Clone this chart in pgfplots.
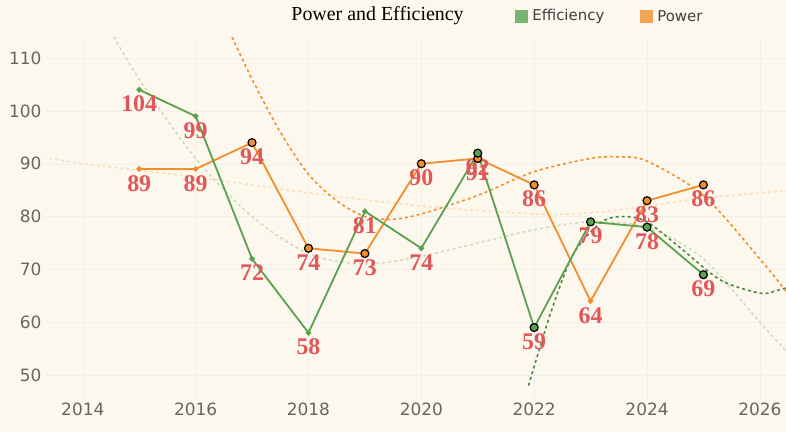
\documentclass[border=0pt]{standalone}
\usepackage{pgfplots}
\pgfplotsset{compat=1.18}
\usepackage{fontspec}
\setmainfont{Liberation Serif}
\setsansfont{DejaVu Sans}
\definecolor{bg}{HTML}{FDF8EE}
\definecolor{eff}{HTML}{59A14F}
\definecolor{pow}{HTML}{F28E2B}
\definecolor{lab}{HTML}{E15759}
\begin{document}
\begin{tikzpicture}
\fill[bg] (0,0) rectangle (786bp,432bp);
\begin{axis}[at={(45bp,32bp)},anchor=south west,
 width=741bp,height=362bp,scale only axis,
 xmin=2013.33,xmax=2026.46,ymin=45.3,ymax=113.8,
 xtick={2014,2016,...,2026},ytick={50,60,...,110},
 xticklabel style={/pgf/number format/1000 sep={}},
 /pgf/number format/assume math mode=true,
 ticklabel style={font=\sffamily\fontsize{17}{17}\selectfont,text=gray!80!black},
 axis line style={draw=none},tick style={draw=none},
 grid=major,grid style={black!6},
 clip=true,
 nodes near coords,point meta=explicit symbolic,
 every node near coord/.style={font=\bfseries\fontsize{24}{24}\selectfont,text=lab,anchor=north,yshift=-2pt},
]
\addplot[no marks,dashed,line width=1.6pt,eff!30!bg,smooth,nodes near coords={}] coordinates {(2014.5,115)(2015,106)(2016,91)(2017,80)(2018,73)(2019,71)(2020,72.5)(2021,75)(2022,77.5)(2023,79)(2024,78)(2025,72)(2026,60)(2026.6,53)};
\addplot[no marks,dashed,line width=1.6pt,pow!25!bg,smooth,nodes near coords={}] coordinates {(2013.2,91.5)(2014,90)(2016,87.5)(2018,84.5)(2020,82)(2022,80.5)(2023,80.7)(2024,82)(2025,83.5)(2026.6,85)};
\addplot[no marks,dashed,line width=1.6pt,pow,smooth,nodes near coords={}] coordinates {(2016.6,115)(2017,106)(2017.5,96)(2018,88)(2018.5,83)(2019,80)(2019.5,79.5)(2020,80.5)(2021,84)(2022,88.5)(2023,91)(2023.5,91.3)(2024,90.5)(2025,84)(2026,72)(2026.6,64)};
\addplot[no marks,dashed,line width=1.6pt,eff!85!black,smooth,nodes near coords={}] coordinates {(2021.9,48)(2022.3,62)(2022.7,73)(2023.2,79)(2023.6,80)(2024,79)(2024.6,74)(2025.3,68)(2026,65.5)(2026.3,66)(2026.6,67)};
\addplot[line width=1.8pt,pow,mark=*,mark size=1.8pt] coordinates {(2015,89)[89](2016,89)[89](2017,94)[94](2018,74)[74](2019,73)[73](2020,90)[90](2021,91)[91](2022,86)[86](2023,64)[64](2024,83)[83](2025,86)[86]};
\addplot[line width=1.8pt,eff,mark=*,mark size=1.8pt] coordinates {(2015,104)[104](2016,99)[99](2017,72)[72](2018,58)[58](2019,81)[81](2020,74)[74](2021,92)[92](2022,59)[59](2023,79)[79](2024,78)[78](2025,69)[69]};
\addplot[only marks,mark=*,mark size=4pt,mark options={fill=pow,draw=black,line width=1.2pt},nodes near coords={}] coordinates {(2017,94)(2018,74)(2019,73)(2020,90)(2021,91)(2022,86)(2024,83)(2025,86)};
\addplot[only marks,mark=*,mark size=4pt,mark options={fill=eff,draw=black,line width=1.2pt},nodes near coords={}] coordinates {(2021,92)(2022,59)(2023,79)(2024,78)(2025,69)};
\end{axis}
\node[anchor=west,font=\fontsize{20}{20}\selectfont] at (288bp,416bp) {Power and Efficiency};
\fill[eff!80] (515bp,409bp) rectangle (528bp,422bp);
\node[anchor=west,font=\sffamily\fontsize{15}{15}\selectfont,text=black!75] at (529bp,416bp) {Efficiency};
\fill[pow!80] (640bp,409bp) rectangle (653bp,422bp);
\node[anchor=west,font=\sffamily\fontsize{15}{15}\selectfont,text=black!75] at (654bp,416bp) {Power};
\end{tikzpicture}
\end{document}
